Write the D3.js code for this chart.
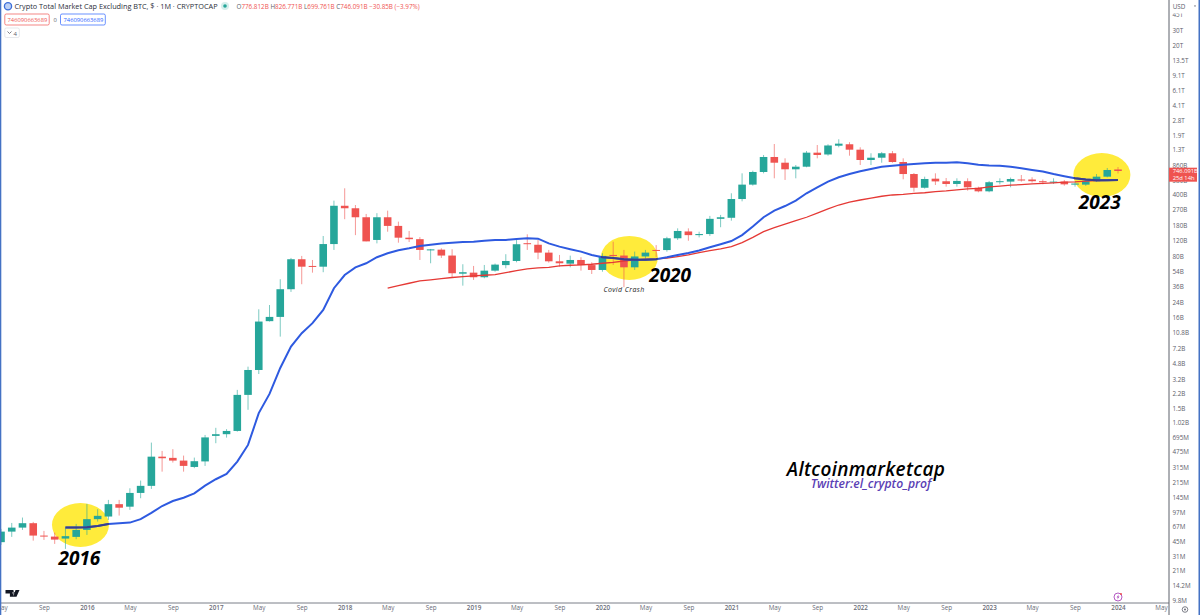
<!DOCTYPE html>
<html>
<head>
<meta charset="utf-8">
<script src="https://cdn.jsdelivr.net/npm/d3@7"></script>
<style>
  html, body { margin: 0; padding: 0; background: #fff; overflow: hidden; }
  svg { display: block; }
  text { font-family: "Open Sans", sans-serif; }
</style>
</head>
<body>
<div id="chart"></div>
<script>
// monthly candles, values in billions of USD, first candle is May 2015
var opens = [.0446,.0588,.0653,.0733,.053,.0516,.049,.0512,.0615,.0815,.0873,.1207,.113,.162,.195,.419,.406,.378,.32,.37,
  .722,.755,.822,2.114,4.06,14.59,16.31,33.7,73.9,62,60.8,110,300,281,222,122.5,222,177,130,125,94.3,95,81.4,50.6,
  52,46.1,54.8,63.4,70.6,112.5,108,87.9,70,65.8,72.5,63.4,55.8,82.7,81.4,59.8,79.5,94.3,94,128,153,139,143,213,
  219,358,522,727,1077,927,780,835,1206,1150,1447,1503,1304,995,1057,1187,944,689,481,610,570,531,571,482,
  438,560,565,597,597,571,556,565,522,522,571,643,776.8];
var highs = [.0631,.0738,.085,.0758,.0599,.0573,.0648,.0719,.1215,.1058,.135,.135,.183,.224,.606,.487,.51,.431,.409,.74,
  .892,.862,2.41,4.43,19.91,22.28,43.75,76.5,80.6,72.5,135.9,343,474,306,242,247,264,198,155,132,96.8,98.5,96,64.8,
  62,63.6,66,84.3,122.5,142,122.5,94.3,82.7,81.2,77.9,68.2,86.5,117,94.3,90.2,94.3,107,133,166,166,152,230,236,
  416,702,752,1135,1513,1040,873,1260,1474,1503,1713,1588,1389,1187,1228,1260,1040,708,643,702,621,616,616,495,
  575,616,628,672,633,597,616,590,565,597,689,807,826.77];
var lows = [.0415,.0512,.0615,.0464,.0473,.0426,.0374,.0482,.0539,.0764,.0799,.0895,.104,.141,.18,.283,.359,.283,.31,.329,
  .596,.69,.807,1.43,3.654,14.44,9.73,31.4,38.4,52,52.6,94.3,211,139,118,112,152,114,116,72.5,66.5,76.5,46.4,37,
  43,44.9,53.3,58.3,68.2,94.3,74,67.6,60.8,59.8,54.8,50.2,53.3,63.6,35.5,55.8,72.5,78,90.2,122.5,120,131,136,171,
  203,337,508,702,616,590,616,822,1040,1114,1389,1114,873,873,927,927,600,434,470,517,495,495,446,427,
  427,526,487,565,551,526,531,508,495,505,560,633,699.76];
var closes = [.0588,.0653,.0733,.053,.0526,.0477,.0522,.0615,.0815,.0889,.1207,.11,.162,.195,.419,.402,.378,.329,.372,.694,
  .755,.822,2.114,4.06,14.44,16.31,33.7,73.9,60.8,61,110,300,281,222,118,222,177,130,125,94.3,95.7,81.4,51.2,52.6,
  46.1,54.8,64.2,70.6,109.5,110,87.9,70,66.5,72.5,63.4,55.8,80.6,80.6,59.8,79.5,87.9,93.3,128,155,139,143,213,222,
  358,522,727,1077,927,780,835,1206,1135,1456,1527,1304,995,1057,1187,944,689,481,605,568,531,575,487,438,
  556,571,605,590,571,556,565,526,537,571,643,766,746.09];

// moving averages, they end on the last candle
var blueMa = [.0653,.0657,.066,.0683,.0719,.0733,.0745,.0815,.096,.115,.131,.143,.16,.196,.232,.266,.368,.57,1.311,2.169,
  4.282,7.484,10.64,13.85,19.6,34.6,48.9,59.8,66.5,77.9,86.5,93.6,98.5,104.7,108,111.8,114,116,117,120,122.5,122.5,125.8,128,126.6,
  112,102.8,96,90.2,82.7,77.9,76.5,74,73,73,74,77.9,82.7,87,92.8,101,109.5,119,139,174,222,264,298,343,416,487,565,633,689,
  740,786,835,857,880,895,912,927,927,940,912,880,864,857,835,800,766,735,688,650,616,598,585,585,590];
var redMa = [34.6,37,39.4,41.9,43,44.4,45.8,46.8,47.7,48.6,49.5,52,54.8,57.3,58.9,59.8,62,63.1,63.6,64.8,66.5,68.2,70.6,72.5,74,74.6,76,
  79.1,82.7,87.9,92.8,97,102.8,114,131,152,169,185,203,222,247,276,306,331,349,367,385,398,405,416,422,434,442,454,466,474,
  492,502,514,522,531,539,547,556,560,571,580,585,590];

var xTickLabels = ['May','Sep','2016','May','Sep','2017','May','Sep','2018','May','Sep','2019','May','Sep','2020','May','Sep',
  '2021','May','Sep','2022','May','Sep','2023','May','Sep','2024','May'];
var yTickLabels = ['45T','30T','20T','13.5T','9.1T','6.1T','4.1T','2.8T','1.9T','1.3T','860B','580B','400B','270B','180B','120B','80B',
  '54B','36B','24B','16B','10.8B','7.2B','4.8B','3.2B','2.2B','1.5B','1.02B','695M','475M','315M','215M','145M','97M','67M','45M',
  '31M','21M','14.2M','9.8M'];

// the yellow circles and the notes, placed by month number and value
var highlights = [[7.4, .07], [58.5, 76.5], [102.5, 672]];
var yearNotes = ['2016', '2020', '2023'];
var yearNoteSpots = [[7.3, .0246], [62.3, 40.8], [102.3, 276]];

var width = 1200, height = 615;
var paneRight = 1169, axisY = 603;
var teal = '#26a69a', red = '#ef5350';

var months = d3.timeMonth.range(new Date(2015, 4, 1), new Date(2024, 1, 1));
var candles = months.map(function (m, i) {
  return { month: m, i: i, o: opens[i], h: highs[i], l: lows[i], c: closes[i] };
});

var x = d3.scaleLinear().domain([0, 104]).range([1, 1118]);
var y = d3.scaleLog().domain([30000, 0.0098]).range([30, 600]);

function labelValue(s) {
  var unit = s.slice(-1);
  var mult = unit === 'T' ? 1000 : unit === 'B' ? 1 : 0.001;
  return parseFloat(s) * mult;
}

var svg = d3.select('#chart').append('svg').attr('width', width).attr('height', height);
svg.append('rect').attr('width', width).attr('height', height).attr('fill', '#fff');

var defs = svg.append('defs');
defs.append('clipPath').attr('id', 'pane').append('rect')
  .attr('x', 0).attr('y', 0).attr('width', paneRight).attr('height', axisY);
var ovalClip = defs.append('clipPath').attr('id', 'ovals');

var g = svg.append('g').attr('clip-path', 'url(#pane)');

// yellow circles go under the candles
g.selectAll('ellipse.spot').data(highlights).enter().append('ellipse')
  .attr('class', 'spot')
  .attr('cx', function (d) { return x(d[0]); })
  .attr('cy', function (d) { return y(d[1]); })
  .attr('rx', 28.5).attr('ry', 22)
  .attr('fill', '#ffeb3b');
ovalClip.selectAll('ellipse').data(highlights).enter().append('ellipse')
  .attr('cx', function (d) { return x(d[0]); })
  .attr('cy', function (d) { return y(d[1]); })
  .attr('rx', 28.5).attr('ry', 22);

// candles
var candle = g.selectAll('g.candle').data(candles).enter().append('g').attr('class', 'candle');
candle.append('line')
  .attr('x1', function (d) { return x(d.i); })
  .attr('x2', function (d) { return x(d.i); })
  .attr('y1', function (d) { return y(d.h); })
  .attr('y2', function (d) { return y(d.l); })
  .attr('stroke', function (d) { return d.c >= d.o ? teal : red; })
  .attr('stroke-opacity', 0.6)
  .attr('stroke-width', 1);
candle.append('rect')
  .attr('x', function (d) { return x(d.i) - 3.8; })
  .attr('width', 7.6)
  .attr('y', function (d) { return y(Math.max(d.o, d.c)); })
  .attr('height', function (d) { return Math.max(1, Math.abs(y(d.o) - y(d.c))); })
  .attr('fill', function (d) { return d.c >= d.o ? teal : red; });

function maLine(values) {
  var offset = months.length - values.length;
  return d3.line()
    .x(function (d, i) { return x(i + offset); })
    .y(function (d) { return y(d); })(values);
}

g.append('path').attr('d', maLine(redMa)).attr('fill', 'none').attr('stroke', '#e53935').attr('stroke-width', 1.3);
g.append('path').attr('d', maLine(blueMa)).attr('fill', 'none').attr('stroke', '#2e5ae0').attr('stroke-width', 2);
// lines look darker where they cross the yellow
g.append('path').attr('d', maLine(blueMa)).attr('fill', 'none').attr('stroke', '#3a3f8c').attr('stroke-width', 2)
  .attr('clip-path', 'url(#ovals)');

// drawn notes
g.selectAll('text.year').data(yearNotes).enter().append('text')
  .attr('class', 'year')
  .attr('x', function (d, i) { return x(yearNoteSpots[i][0]); })
  .attr('y', function (d, i) { return y(yearNoteSpots[i][1]); })
  .attr('text-anchor', 'middle')
  .attr('font-size', 19)
  .attr('font-style', 'italic')
  .attr('font-weight', 700)
  .attr('fill', '#000')
  .text(function (d) { return d; });
g.append('text').attr('x', 624).attr('y', 292).attr('text-anchor', 'middle')
  .attr('font-size', 7).attr('font-style', 'italic').attr('letter-spacing', 0.4).attr('fill', '#222').text('Covid Crash');
g.append('text').attr('x', 866).attr('y', 476).attr('text-anchor', 'middle')
  .attr('font-size', 19).attr('font-style', 'italic').attr('font-weight', 600).attr('letter-spacing', 0.3).attr('fill', '#000').text('Altcoinmarketcap');
g.append('text').attr('x', 871).attr('y', 487.5).attr('text-anchor', 'middle')
  .attr('font-size', 12.2).attr('font-style', 'italic').attr('font-weight', 600).attr('fill', '#5b3fb5').text('Twitter:el_crypto_prof');

// price axis
var yAxis = d3.axisRight(y)
  .tickValues(yTickLabels.map(labelValue))
  .tickFormat(function (d, i) { return yTickLabels[i]; })
  .tickSize(0).tickPadding(3.5);
var yG = svg.append('g').attr('transform', 'translate(' + paneRight + ',0)').call(yAxis);
yG.select('.domain').remove();
yG.selectAll('text').attr('font-size', 6.3).attr('fill', '#5d606b').attr('font-family', '"Open Sans", sans-serif');

// time axis, one label every 4 months
var xAxis = d3.axisBottom(x)
  .tickValues(xTickLabels.map(function (d, i) { return i * 4; }))
  .tickFormat(function (d, i) { return xTickLabels[i]; })
  .tickSize(0).tickPadding(2.5);
var xG = svg.append('g').attr('transform', 'translate(0,' + axisY + ')').call(xAxis);
xG.select('.domain').remove();
xG.selectAll('text').attr('font-size', 6.3).attr('fill', '#6a6d78').attr('font-family', '"Open Sans", sans-serif')
  .attr('font-weight', function (d, i) { return /^\d/.test(xTickLabels[i]) ? 600 : 400; });

svg.append('line').attr('x1', 0).attr('x2', paneRight).attr('y1', axisY).attr('y2', axisY).attr('stroke', '#7b7e88');
svg.append('line').attr('x1', paneRight).attr('x2', paneRight).attr('y1', 0).attr('y2', height).attr('stroke', '#5d606b');
svg.append('rect').attr('x', 0).attr('y', 0).attr('width', 1.3).attr('height', height).attr('fill', '#4472c4');
svg.append('rect').attr('x', 1198.5).attr('y', 0).attr('width', 1.5).attr('height', height).attr('fill', '#4472c4');

// last price tag
svg.append('rect').attr('x', paneRight).attr('y', y(746.09) - 3.3).attr('width', 28).attr('height', 14).attr('fill', red);
svg.append('text').attr('x', 1172.7).attr('y', y(746.09) + 2.4).attr('font-size', 5.8).attr('fill', '#fff').text('746.091B');
svg.append('text').attr('x', 1172.7).attr('y', y(746.09) + 9).attr('font-size', 5.8).attr('fill', '#fff').text('25d 14h');

// USD button
svg.append('rect').attr('x', 1170).attr('y', 0).attr('width', 28).attr('height', 13.5).attr('fill', '#fff');
svg.append('text').attr('x', 1172.7).attr('y', 8.5).attr('font-size', 6.3).attr('fill', '#5d606b').text('USD');
svg.append('path').attr('d', 'M1194,5.5l2,0l-1,1.5z').attr('fill', '#5d606b');

// header
svg.append('circle').attr('cx', 8).attr('cy', 6.3).attr('r', 3.6).attr('fill', '#bcd0f5').attr('stroke', '#3d6fd8').attr('stroke-width', 1.3);
svg.append('text').attr('x', 14.5).attr('y', 9).attr('font-size', 7.3).attr('fill', '#2a2e39')
  .text('Crypto Total Market Cap Excluding BTC, $ · 1M · CRYPTOCAP');
svg.append('circle').attr('cx', 225).attr('cy', 6).attr('r', 4).attr('fill', '#d5efec');
svg.append('circle').attr('cx', 225).attr('cy', 6).attr('r', 1.8).attr('fill', teal);

var ohlc = svg.append('text').attr('x', 236.5).attr('y', 8.5).attr('font-size', 6.3).attr('fill', red);
[['O', '776.812B'], ['H', '826.771B'], ['L', '699.761B'], ['C', '746.091B'], ['', '\u221230.85B (\u22123.97%)']].forEach(function (p) {
  ohlc.append('tspan').attr('fill', '#5d606b').text(p[0]);
  ohlc.append('tspan').text(p[1] + '\u00a0');
});

svg.append('rect').attr('x', 4.8).attr('y', 14).attr('width', 44.4).attr('height', 11).attr('rx', 1.5)
  .attr('fill', '#fff').attr('stroke', red).attr('stroke-width', 0.7);
svg.append('text').attr('x', 7.5).attr('y', 22).attr('font-size', 5.8).attr('fill', red).text('746090663689');
svg.append('text').attr('x', 53.5).attr('y', 22).attr('font-size', 5.8).attr('fill', '#5d606b').text('0');
svg.append('rect').attr('x', 60.5).attr('y', 14).attr('width', 44.8).attr('height', 11).attr('rx', 1.5)
  .attr('fill', '#fff').attr('stroke', '#2962ff').attr('stroke-width', 0.7);
svg.append('text').attr('x', 63.5).attr('y', 22).attr('font-size', 5.8).attr('fill', '#2962ff').text('746090663689');
svg.append('rect').attr('x', 4.8).attr('y', 28).attr('width', 14.5).attr('height', 9.5).attr('rx', 1.5)
  .attr('fill', '#fff').attr('stroke', '#d6d8de').attr('stroke-width', 0.6);
svg.append('path').attr('d', 'M7.5,31.5l2,2l2,-2').attr('fill', 'none').attr('stroke', '#5d606b').attr('stroke-width', 0.8);
svg.append('text').attr('x', 13.5).attr('y', 35.5).attr('font-size', 6).attr('fill', '#5d606b').text('4');

// corner icons
svg.append('path').attr('d', 'M5.5,590h8v6.8h-3.6v-3.4h-4.4z M15.5,590h4l-3,6.8h-3.2z M13.6,591.8a1.1,1.1 0 1 0 0.01,0z').attr('fill', '#131722');
svg.append('circle').attr('cx', 1118).attr('cy', 597).attr('r', 4).attr('fill', '#fff').attr('stroke', '#ab47bc').attr('stroke-width', 0.9);
svg.append('path').attr('d', 'M1118.8,594.2l-2.2,3.2h1.4l-0.8,2.4l2.3,-3.2h-1.4z').attr('fill', '#ab47bc');
svg.append('circle').attr('cx', 1121).attr('cy', 594).attr('r', 1).attr('fill', red);
svg.append('circle').attr('cx', 1185).attr('cy', 609.5).attr('r', 2.8).attr('fill', 'none').attr('stroke', '#5d606b').attr('stroke-width', 0.8);
svg.append('circle').attr('cx', 1185).attr('cy', 609.5).attr('r', 0.9).attr('fill', '#5d606b');
</script>
</body>
</html>
